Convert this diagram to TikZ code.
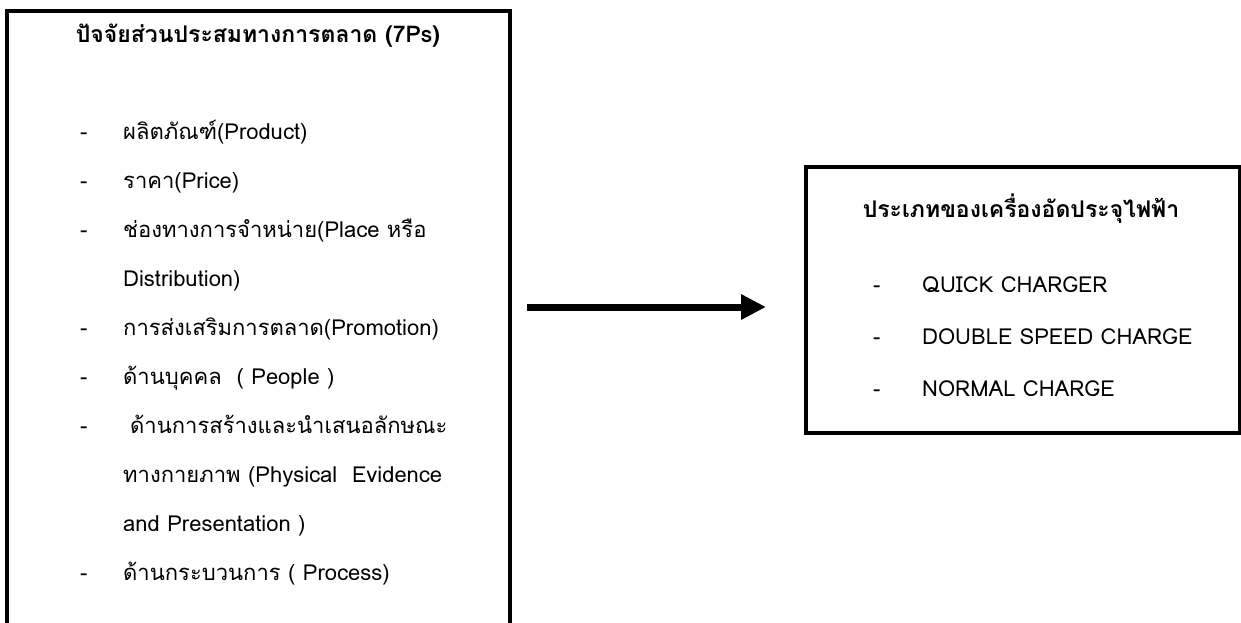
\documentclass[tikz,border=0pt]{standalone}
\usepackage{fontspec}
\setmainfont[Script=Thai]{Loma}
\usetikzlibrary{arrows.meta,positioning}

\begin{document}
\begin{tikzpicture}[x=1pt, y=-1pt, font=\fontsize{22}{26}\selectfont,
  box/.style={draw, line width=4pt},
  head/.style={font=\fontsize{23}{27}\selectfont\bfseries, anchor=base},
  item/.style={anchor=base west, inner sep=0pt},
  arr/.style={line width=7pt, -{Triangle[length=25pt,width=24pt]}}]
\useasboundingbox (0,0) rectangle (1241,622);
\clip (0,0) rectangle (1241,622);
% left box, open at the bottom of the page
\node[box, minimum width=503pt, minimum height=700pt, anchor=north west] (mix) at (5,9) {};
\node[head] (mixtitle) at (258,42) {ปัจจัยส่วนประสมทางการตลาด (7Ps)};
\node[item] at (80,139) {-}; \node[item] (m1) at (123,139) {ผลิตภัณฑ์(Product)};
\node[item] at (80,188) {-}; \node[item] (m2) at (123,188) {ราคา(Price)};
\node[item] at (80,237) {-}; \node[item] (m3) at (123,237) {ช่องทางการจำหน่าย(Place หรือ};
\node[item] (m3b) at (123,286) {Distribution)};
\node[item] at (80,335) {-}; \node[item] (m4) at (123,335) {การส่งเสริมการตลาด(Promotion)};
\node[item] at (80,384) {-}; \node[item] (m5) at (123,384) {ด้านบุคคล~~( People )};
\node[item] at (80,433) {-}; \node[item] (m6) at (130,433) {ด้านการสร้างและนำเสนอลักษณะ};
\node[item] (m6b) at (123,482) {ทางกายภาพ (Physical~~Evidence};
\node[item] (m6c) at (123,531) {and Presentation )};
\node[item] at (80,580) {-}; \node[item] (m7) at (123,580) {ด้านกระบวนการ ( Process)};
% right box
\node[box, minimum width=434pt, minimum height=266pt, anchor=north west] (types) at (804,165) {};
\node[head] (typestitle) at (1021,217) {ประเภทของเครื่องอัดประจุไฟฟ้า};
\node[item] at (873,292) {-}; \node[item] (t1) at (922,292) {QUICK CHARGER};
\node[item] at (873,344) {-}; \node[item] (t2) at (922,344) {DOUBLE SPEED CHARGE};
\node[item] at (873,396) {-}; \node[item] (t3) at (922,396) {NORMAL CHARGE};
\draw[arr, shorten <=15pt, shorten >=38pt] ([yshift=-7pt]mix.east |- types.west) -- ([yshift=-7pt]types.west);
\end{tikzpicture}
\end{document}
